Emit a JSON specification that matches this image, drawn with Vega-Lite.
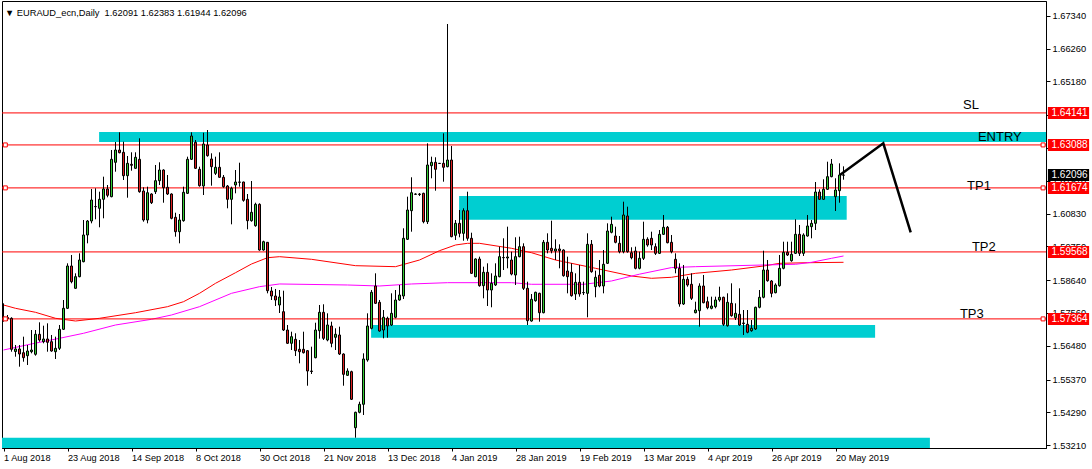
{
"$schema": "https://vega.github.io/schema/vega-lite/v6.json",
"width": 1044, "height": 447,
"autosize": {"type": "none"},
"padding": {"left": 2, "top": 1, "right": 46, "bottom": 21},
"background": "white",
"config": {"view": {"stroke": "black", "strokeWidth": 1}, "font": "Liberation Sans", "axis": {"grid": false, "labelOverlap": false, "labelSeparation": -40}, "axisY": {"labelOverlap": false}},
"title": {"text": "▼ EURAUD_ecn,Daily \u00a01.62091 1.62383 1.61944 1.62096", "anchor": "start", "frame": "group", "orient": "top", "offset": 0, "dy": 24, "dx": 3, "fontSize": 9.3, "fontWeight": "normal", "font": "Liberation Sans", "color": "black", "baseline": "alphabetic"},
"datasets": {
"zones": [
{"x1": 23.9, "x2": 270, "p1": 1.63513, "p2": 1.63184},
{"x1": 113.9, "x2": 210.8, "p1": 1.61408, "p2": 1.60628},
{"x1": 91.9, "x2": 217.9, "p1": 1.57164, "p2": 1.56746},
{"x1": -1, "x2": 231.6, "p1": 1.53456, "p2": 1.53117}
],
"levels": [
{"name": "SL", "p": 1.64141}, {"name": "ENTRY", "p": 1.63088}, {"name": "TP1", "p": 1.61674}, {"name": "TP2", "p": 1.59568}, {"name": "TP3", "p": 1.57364}
],
"ends": [
{"i": 0.45, "p": 1.63088}, {"i": 0.45, "p": 1.61674}, {"i": 0.45, "p": 1.57364},
{"i": 259.9, "p": 1.63088}, {"i": 259.9, "p": 1.61674}, {"i": 259.9, "p": 1.57364}
],
"notes": [
{"t": "SL", "i": 239.9, "p": 1.6427}, {"t": "ENTRY", "i": 243.6, "p": 1.63201}, {"t": "TP1", "i": 240.9, "p": 1.61605}, {"t": "TP2", "i": 242.1, "p": 1.59582}, {"t": "TP3", "i": 239.1, "p": 1.5741}
],
"tags": [
{"p": 1.64141, "kind": "level"}, {"p": 1.63088, "kind": "level"}, {"p": 1.62096, "kind": "current"}, {"p": 1.61674, "kind": "level"}, {"p": 1.59568, "kind": "level"}, {"p": 1.57364, "kind": "level"}
],
"arrow": [
{"k": 1, "i": 209.1, "p": 1.62099}, {"k": 2, "i": 219.95, "p": 1.63141}, {"k": 3, "i": 226.8, "p": 1.60213}
],
"ma": [
{"s":"red","i":0,"p":1.57822},{"s":"red","i":3,"p":1.57713},{"s":"red","i":8,"p":1.57581},{"s":"red","i":13,"p":1.57384},{"s":"red","i":18,"p":1.57295},{"s":"red","i":24,"p":1.57384},{"s":"red","i":33,"p":1.57568},{"s":"red","i":41,"p":1.57766},{"s":"red","i":45,"p":1.5793},{"s":"red","i":49,"p":1.58206},{"s":"red","i":53,"p":1.58535},{"s":"red","i":58,"p":1.58884},{"s":"red","i":62,"p":1.5917},{"s":"red","i":66,"p":1.59378},{"s":"red","i":69,"p":1.59411},{"s":"red","i":77,"p":1.59325},{"s":"red","i":88,"p":1.59115},{"s":"red","i":98,"p":1.59082},{"s":"red","i":104,"p":1.59302},{"s":"red","i":109,"p":1.59608},{"s":"red","i":113,"p":1.59796},{"s":"red","i":116,"p":1.59851},{"s":"red","i":119,"p":1.59851},{"s":"red","i":127,"p":1.59687},{"s":"red","i":132,"p":1.59542},{"s":"red","i":138,"p":1.59302},{"s":"red","i":148,"p":1.59029},{"s":"red","i":157,"p":1.58776},{"s":"red","i":162,"p":1.587},{"s":"red","i":167,"p":1.58733},{"s":"red","i":173,"p":1.58864},{"s":"red","i":182,"p":1.58973},{"s":"red","i":190,"p":1.59105},{"s":"red","i":194,"p":1.59193},{"s":"red","i":201,"p":1.59213},{"s":"red","i":210,"p":1.59226},
{"s":"magenta","i":0,"p":1.56341},{"s":"magenta","i":7,"p":1.5654},{"s":"magenta","i":14,"p":1.56726},{"s":"magenta","i":20,"p":1.56891},{"s":"magenta","i":28,"p":1.57164},{"s":"magenta","i":37,"p":1.57351},{"s":"magenta","i":42,"p":1.57493},{"s":"magenta","i":49,"p":1.57766},{"s":"magenta","i":57,"p":1.58206},{"s":"magenta","i":64,"p":1.58424},{"s":"magenta","i":69,"p":1.58513},{"s":"magenta","i":86,"p":1.5848},{"s":"magenta","i":94,"p":1.58447},{"s":"magenta","i":102,"p":1.58513},{"s":"magenta","i":111,"p":1.58556},{"s":"magenta","i":127,"p":1.58556},{"s":"magenta","i":132,"p":1.58503},{"s":"magenta","i":145,"p":1.58503},{"s":"magenta","i":152,"p":1.58612},{"s":"magenta","i":159,"p":1.58836},{"s":"magenta","i":167,"p":1.59053},{"s":"magenta","i":173,"p":1.59082},{"s":"magenta","i":190,"p":1.59138},{"s":"magenta","i":198,"p":1.59161},{"s":"magenta","i":202,"p":1.59226},{"s":"magenta","i":207,"p":1.59358},{"s":"magenta","i":210,"p":1.59434}
],
"candles": [
{"i":0,"o":1.57394,"h":1.57877,"l":1.57272,"c":1.57427},
{"i":1,"o":1.57410,"h":1.57493,"l":1.57295,"c":1.57377},
{"i":2,"o":1.57384,"h":1.57417,"l":1.56285,"c":1.56364},
{"i":3,"o":1.56292,"h":1.56506,"l":1.56121,"c":1.56374},
{"i":4,"o":1.56374,"h":1.56506,"l":1.55792,"c":1.56209},
{"i":5,"o":1.56252,"h":1.56779,"l":1.55956,"c":1.56088},
{"i":6,"o":1.56154,"h":1.56506,"l":1.55848,"c":1.56308},
{"i":7,"o":1.56285,"h":1.56999,"l":1.56232,"c":1.56341},
{"i":8,"o":1.56200,"h":1.56999,"l":1.56154,"c":1.56858},
{"i":9,"o":1.56858,"h":1.57252,"l":1.56614,"c":1.56670},
{"i":10,"o":1.56614,"h":1.57141,"l":1.56562,"c":1.56703},
{"i":11,"o":1.56703,"h":1.57219,"l":1.56285,"c":1.56594},
{"i":12,"o":1.56614,"h":1.56835,"l":1.56285,"c":1.56308},
{"i":13,"o":1.56285,"h":1.56779,"l":1.56045,"c":1.56397},
{"i":14,"o":1.56397,"h":1.57164,"l":1.56341,"c":1.57022},
{"i":15,"o":1.57022,"h":1.57986,"l":1.56999,"c":1.57713},
{"i":16,"o":1.57713,"h":1.59193,"l":1.57690,"c":1.59105},
{"i":17,"o":1.59105,"h":1.59467,"l":1.58535,"c":1.58588},
{"i":18,"o":1.58371,"h":1.58864,"l":1.58358,"c":1.58753},
{"i":19,"o":1.58753,"h":1.59522,"l":1.58733,"c":1.59302},
{"i":20,"o":1.59246,"h":1.60618,"l":1.59226,"c":1.60125},
{"i":21,"o":1.60125,"h":1.60618,"l":1.59851,"c":1.60585},
{"i":22,"o":1.60585,"h":1.61638,"l":1.60509,"c":1.61276},
{"i":23,"o":1.61056,"h":1.61661,"l":1.60641,"c":1.61062},
{"i":24,"o":1.61003,"h":1.61549,"l":1.60378,"c":1.61299},
{"i":25,"o":1.61299,"h":1.62043,"l":1.60674,"c":1.61638},
{"i":26,"o":1.61638,"h":1.61770,"l":1.61365,"c":1.61431},
{"i":27,"o":1.61385,"h":1.62921,"l":1.61365,"c":1.62615},
{"i":28,"o":1.62516,"h":1.63184,"l":1.62207,"c":1.62921},
{"i":29,"o":1.62921,"h":1.63503,"l":1.62812,"c":1.62832},
{"i":30,"o":1.62845,"h":1.63194,"l":1.61934,"c":1.62076},
{"i":31,"o":1.62076,"h":1.62724,"l":1.61352,"c":1.62483},
{"i":32,"o":1.62450,"h":1.62845,"l":1.62240,"c":1.62418},
{"i":33,"o":1.62319,"h":1.62845,"l":1.62306,"c":1.62681},
{"i":34,"o":1.62615,"h":1.63306,"l":1.61516,"c":1.61549},
{"i":35,"o":1.61572,"h":1.61694,"l":1.60562,"c":1.60618},
{"i":36,"o":1.60618,"h":1.61714,"l":1.60509,"c":1.61516},
{"i":37,"o":1.61473,"h":1.61496,"l":1.61144,"c":1.61187},
{"i":38,"o":1.61549,"h":1.62428,"l":1.61473,"c":1.61911},
{"i":39,"o":1.61911,"h":1.62516,"l":1.61770,"c":1.62263},
{"i":40,"o":1.62263,"h":1.62286,"l":1.61187,"c":1.61681},
{"i":41,"o":1.61694,"h":1.62099,"l":1.61440,"c":1.61473},
{"i":42,"o":1.61473,"h":1.61496,"l":1.60641,"c":1.60674},
{"i":43,"o":1.60707,"h":1.60858,"l":1.60069,"c":1.60233},
{"i":44,"o":1.60233,"h":1.60815,"l":1.59851,"c":1.60618},
{"i":45,"o":1.60595,"h":1.61714,"l":1.60562,"c":1.61529},
{"i":46,"o":1.61496,"h":1.62701,"l":1.61473,"c":1.62615},
{"i":47,"o":1.62615,"h":1.63503,"l":1.62592,"c":1.63382},
{"i":48,"o":1.63174,"h":1.63250,"l":1.62296,"c":1.62319},
{"i":49,"o":1.62286,"h":1.62372,"l":1.61714,"c":1.61747},
{"i":50,"o":1.61737,"h":1.63490,"l":1.61440,"c":1.63118},
{"i":51,"o":1.63086,"h":1.63579,"l":1.62701,"c":1.62734},
{"i":52,"o":1.62625,"h":1.62812,"l":1.61747,"c":1.62372},
{"i":53,"o":1.62154,"h":1.62701,"l":1.62099,"c":1.62352},
{"i":54,"o":1.62352,"h":1.62845,"l":1.62010,"c":1.62023},
{"i":55,"o":1.62023,"h":1.62099,"l":1.61681,"c":1.61714},
{"i":56,"o":1.61737,"h":1.61770,"l":1.61003,"c":1.61299},
{"i":57,"o":1.61299,"h":1.61714,"l":1.60476,"c":1.61661},
{"i":58,"o":1.61770,"h":1.62263,"l":1.61496,"c":1.61868},
{"i":59,"o":1.61868,"h":1.62503,"l":1.61714,"c":1.61859},
{"i":60,"o":1.61868,"h":1.61878,"l":1.61220,"c":1.61266},
{"i":61,"o":1.61299,"h":1.61473,"l":1.60312,"c":1.60595},
{"i":62,"o":1.60595,"h":1.61901,"l":1.60562,"c":1.60871},
{"i":63,"o":1.60430,"h":1.61187,"l":1.60397,"c":1.61134},
{"i":64,"o":1.61134,"h":1.61167,"l":1.59608,"c":1.59631},
{"i":65,"o":1.59631,"h":1.59937,"l":1.59608,"c":1.59904},
{"i":66,"o":1.59884,"h":1.59894,"l":1.58206,"c":1.58292},
{"i":67,"o":1.58282,"h":1.58414,"l":1.57986,"c":1.58118},
{"i":68,"o":1.58118,"h":1.58349,"l":1.57789,"c":1.57986},
{"i":69,"o":1.57822,"h":1.58315,"l":1.57558,"c":1.58085},
{"i":70,"o":1.57601,"h":1.58292,"l":1.56966,"c":1.56999},
{"i":71,"o":1.56999,"h":1.57164,"l":1.56540,"c":1.56562},
{"i":72,"o":1.56562,"h":1.56943,"l":1.56341,"c":1.56779},
{"i":73,"o":1.56693,"h":1.56891,"l":1.56144,"c":1.56318},
{"i":74,"o":1.56364,"h":1.56670,"l":1.55903,"c":1.56285},
{"i":75,"o":1.56364,"h":1.56943,"l":1.56226,"c":1.56252},
{"i":76,"o":1.56318,"h":1.56341,"l":1.55166,"c":1.55650},
{"i":77,"o":1.55650,"h":1.56450,"l":1.55551,"c":1.55634},
{"i":78,"o":1.56088,"h":1.57239,"l":1.56068,"c":1.56999},
{"i":79,"o":1.56976,"h":1.57822,"l":1.56713,"c":1.57581},
{"i":80,"o":1.57581,"h":1.57845,"l":1.56670,"c":1.56726},
{"i":81,"o":1.56670,"h":1.57548,"l":1.56627,"c":1.57164},
{"i":82,"o":1.57131,"h":1.57272,"l":1.56431,"c":1.56562},
{"i":83,"o":1.56759,"h":1.57055,"l":1.56341,"c":1.56858},
{"i":84,"o":1.56835,"h":1.57108,"l":1.56176,"c":1.56209},
{"i":85,"o":1.56209,"h":1.56232,"l":1.55166,"c":1.55541},
{"i":86,"o":1.55508,"h":1.55739,"l":1.55485,"c":1.55650},
{"i":87,"o":1.55627,"h":1.55660,"l":1.54696,"c":1.54719},
{"i":88,"o":1.53785,"h":1.54311,"l":1.53456,"c":1.54291},
{"i":89,"o":1.54291,"h":1.54640,"l":1.54258,"c":1.54555},
{"i":90,"o":1.54555,"h":1.56232,"l":1.54203,"c":1.56045},
{"i":91,"o":1.56012,"h":1.57548,"l":1.55956,"c":1.57131},
{"i":92,"o":1.57055,"h":1.58315,"l":1.57022,"c":1.58239},
{"i":93,"o":1.58447,"h":1.58864,"l":1.57854,"c":1.57877},
{"i":94,"o":1.57910,"h":1.57986,"l":1.56943,"c":1.56966},
{"i":95,"o":1.56999,"h":1.57657,"l":1.56726,"c":1.57417},
{"i":96,"o":1.57384,"h":1.57437,"l":1.56746,"c":1.57131},
{"i":97,"o":1.57164,"h":1.58206,"l":1.57131,"c":1.57548},
{"i":98,"o":1.57417,"h":1.58315,"l":1.57384,"c":1.57986},
{"i":99,"o":1.57986,"h":1.58480,"l":1.57963,"c":1.58151},
{"i":100,"o":1.58118,"h":1.60345,"l":1.58019,"c":1.60016},
{"i":101,"o":1.59983,"h":1.61385,"l":1.59960,"c":1.60947},
{"i":102,"o":1.60924,"h":1.62023,"l":1.60233,"c":1.61516},
{"i":103,"o":1.61463,"h":1.61496,"l":1.61440,"c":1.61473},
{"i":104,"o":1.61473,"h":1.61506,"l":1.61407,"c":1.61457},
{"i":105,"o":1.61496,"h":1.61516,"l":1.60509,"c":1.60562},
{"i":106,"o":1.60562,"h":1.63141,"l":1.60486,"c":1.62428},
{"i":107,"o":1.62405,"h":1.62701,"l":1.61990,"c":1.62516},
{"i":108,"o":1.62516,"h":1.62681,"l":1.61582,"c":1.62286},
{"i":109,"o":1.62483,"h":1.62493,"l":1.62460,"c":1.62477},
{"i":110,"o":1.62483,"h":1.63470,"l":1.61878,"c":1.62352},
{"i":111,"o":1.62372,"h":1.67066,"l":1.62352,"c":1.62592},
{"i":112,"o":1.62592,"h":1.63053,"l":1.60049,"c":1.60069},
{"i":113,"o":1.60115,"h":1.60618,"l":1.59960,"c":1.60509},
{"i":114,"o":1.60509,"h":1.60947,"l":1.60049,"c":1.60180},
{"i":115,"o":1.60180,"h":1.61003,"l":1.59937,"c":1.60924},
{"i":116,"o":1.60924,"h":1.61549,"l":1.59937,"c":1.60016},
{"i":117,"o":1.60016,"h":1.60200,"l":1.58841,"c":1.58864},
{"i":118,"o":1.58753,"h":1.59358,"l":1.58733,"c":1.59335},
{"i":119,"o":1.59335,"h":1.59411,"l":1.58424,"c":1.58457},
{"i":120,"o":1.58457,"h":1.59082,"l":1.58042,"c":1.58897},
{"i":121,"o":1.58897,"h":1.59193,"l":1.57789,"c":1.58315},
{"i":122,"o":1.58315,"h":1.58864,"l":1.57746,"c":1.58535},
{"i":123,"o":1.58480,"h":1.59193,"l":1.58447,"c":1.58776},
{"i":124,"o":1.58753,"h":1.59740,"l":1.58733,"c":1.59411},
{"i":125,"o":1.59378,"h":1.60016,"l":1.58973,"c":1.59384},
{"i":126,"o":1.59368,"h":1.60398,"l":1.59029,"c":1.59401},
{"i":127,"o":1.59302,"h":1.59575,"l":1.58797,"c":1.58840},
{"i":128,"o":1.58808,"h":1.60049,"l":1.58480,"c":1.59411},
{"i":129,"o":1.59411,"h":1.60069,"l":1.59391,"c":1.59740},
{"i":130,"o":1.59740,"h":1.59851,"l":1.58315,"c":1.58371},
{"i":131,"o":1.58371,"h":1.58588,"l":1.57164,"c":1.57305},
{"i":132,"o":1.57295,"h":1.58183,"l":1.57272,"c":1.58009},
{"i":133,"o":1.57963,"h":1.58259,"l":1.57930,"c":1.58239},
{"i":134,"o":1.58206,"h":1.58226,"l":1.57272,"c":1.57568},
{"i":135,"o":1.57568,"h":1.59960,"l":1.57548,"c":1.59884},
{"i":136,"o":1.59884,"h":1.60180,"l":1.59522,"c":1.59631},
{"i":137,"o":1.59687,"h":1.60595,"l":1.59522,"c":1.59608},
{"i":138,"o":1.59598,"h":1.59983,"l":1.59302,"c":1.59664},
{"i":139,"o":1.59664,"h":1.59818,"l":1.59029,"c":1.59608},
{"i":140,"o":1.59631,"h":1.59654,"l":1.58753,"c":1.58786},
{"i":141,"o":1.58940,"h":1.59411,"l":1.58206,"c":1.58753},
{"i":142,"o":1.58897,"h":1.59193,"l":1.58095,"c":1.58128},
{"i":143,"o":1.58184,"h":1.58864,"l":1.57986,"c":1.58568},
{"i":144,"o":1.58568,"h":1.59138,"l":1.58095,"c":1.58184},
{"i":145,"o":1.58226,"h":1.58588,"l":1.58151,"c":1.58233},
{"i":146,"o":1.58206,"h":1.60180,"l":1.57417,"c":1.59818},
{"i":147,"o":1.59818,"h":1.59960,"l":1.58884,"c":1.58917},
{"i":148,"o":1.58424,"h":1.58950,"l":1.58075,"c":1.58733},
{"i":149,"o":1.58800,"h":1.59302,"l":1.58404,"c":1.58447},
{"i":150,"o":1.58447,"h":1.59631,"l":1.58206,"c":1.59161},
{"i":151,"o":1.59193,"h":1.60509,"l":1.59170,"c":1.60256},
{"i":152,"o":1.60213,"h":1.60727,"l":1.60180,"c":1.60476},
{"i":153,"o":1.60092,"h":1.60398,"l":1.59851,"c":1.59884},
{"i":154,"o":1.59851,"h":1.60092,"l":1.59522,"c":1.59575},
{"i":155,"o":1.59575,"h":1.61220,"l":1.59522,"c":1.60783},
{"i":156,"o":1.60750,"h":1.61056,"l":1.59542,"c":1.59575},
{"i":157,"o":1.59542,"h":1.59720,"l":1.59325,"c":1.59378},
{"i":158,"o":1.59598,"h":1.59740,"l":1.58996,"c":1.59029},
{"i":159,"o":1.59029,"h":1.59575,"l":1.58996,"c":1.59358},
{"i":160,"o":1.59358,"h":1.60562,"l":1.59302,"c":1.59983},
{"i":161,"o":1.59983,"h":1.60049,"l":1.59740,"c":1.59796},
{"i":162,"o":1.60016,"h":1.60233,"l":1.59631,"c":1.59796},
{"i":163,"o":1.59740,"h":1.59851,"l":1.59467,"c":1.59522},
{"i":164,"o":1.59522,"h":1.60289,"l":1.59499,"c":1.60147},
{"i":165,"o":1.60147,"h":1.60783,"l":1.60125,"c":1.60378},
{"i":166,"o":1.60378,"h":1.60421,"l":1.59851,"c":1.59871},
{"i":167,"o":1.59884,"h":1.60125,"l":1.59522,"c":1.59575},
{"i":168,"o":1.59325,"h":1.59522,"l":1.58864,"c":1.59029},
{"i":169,"o":1.59029,"h":1.59193,"l":1.57766,"c":1.57854},
{"i":170,"o":1.57854,"h":1.59138,"l":1.57822,"c":1.58667},
{"i":171,"o":1.58667,"h":1.58753,"l":1.58424,"c":1.58480},
{"i":172,"o":1.58503,"h":1.58864,"l":1.57986,"c":1.58042},
{"i":173,"o":1.57568,"h":1.57930,"l":1.57548,"c":1.57657},
{"i":174,"o":1.57634,"h":1.58535,"l":1.57108,"c":1.58447},
{"i":175,"o":1.58447,"h":1.58809,"l":1.57877,"c":1.57897},
{"i":176,"o":1.57930,"h":1.58095,"l":1.57680,"c":1.57733},
{"i":177,"o":1.57713,"h":1.58095,"l":1.57680,"c":1.57789},
{"i":178,"o":1.57766,"h":1.58095,"l":1.57713,"c":1.57986},
{"i":179,"o":1.57986,"h":1.58424,"l":1.57930,"c":1.58075},
{"i":180,"o":1.58075,"h":1.58095,"l":1.57131,"c":1.57187},
{"i":181,"o":1.57141,"h":1.58206,"l":1.57108,"c":1.57910},
{"i":182,"o":1.57877,"h":1.58535,"l":1.57437,"c":1.57469},
{"i":183,"o":1.57404,"h":1.57877,"l":1.57328,"c":1.57548},
{"i":184,"o":1.57515,"h":1.58371,"l":1.57131,"c":1.57164},
{"i":185,"o":1.57230,"h":1.57657,"l":1.56835,"c":1.57213},
{"i":186,"o":1.57187,"h":1.57657,"l":1.56891,"c":1.56924},
{"i":187,"o":1.56976,"h":1.57328,"l":1.56943,"c":1.57055},
{"i":188,"o":1.57032,"h":1.57766,"l":1.56999,"c":1.57746},
{"i":189,"o":1.57746,"h":1.58315,"l":1.57713,"c":1.58075},
{"i":190,"o":1.58075,"h":1.59608,"l":1.58042,"c":1.58973},
{"i":191,"o":1.58973,"h":1.59302,"l":1.58588,"c":1.58621},
{"i":192,"o":1.58611,"h":1.58644,"l":1.58075,"c":1.58206},
{"i":193,"o":1.58226,"h":1.58535,"l":1.58206,"c":1.58480},
{"i":194,"o":1.58457,"h":1.59467,"l":1.58424,"c":1.59029},
{"i":195,"o":1.59029,"h":1.59904,"l":1.58996,"c":1.59555},
{"i":196,"o":1.59555,"h":1.59904,"l":1.59434,"c":1.59467},
{"i":197,"o":1.59279,"h":1.59904,"l":1.59246,"c":1.59490},
{"i":198,"o":1.59522,"h":1.60641,"l":1.59499,"c":1.60147},
{"i":199,"o":1.60147,"h":1.60454,"l":1.59434,"c":1.59522},
{"i":200,"o":1.59522,"h":1.60180,"l":1.59434,"c":1.60125},
{"i":201,"o":1.60092,"h":1.60783,"l":1.60069,"c":1.60421},
{"i":202,"o":1.60398,"h":1.60618,"l":1.60016,"c":1.60509},
{"i":203,"o":1.60509,"h":1.61868,"l":1.60289,"c":1.61539},
{"i":204,"o":1.61539,"h":1.61627,"l":1.61276,"c":1.61299},
{"i":205,"o":1.61299,"h":1.61957,"l":1.61276,"c":1.61628},
{"i":206,"o":1.61628,"h":1.62536,"l":1.61605,"c":1.62043},
{"i":207,"o":1.62043,"h":1.62625,"l":1.62023,"c":1.62460},
{"i":208,"o":1.61385,"h":1.61990,"l":1.60914,"c":1.61605},
{"i":209,"o":1.61582,"h":1.62483,"l":1.61187,"c":1.62099},
{"i":210,"o":1.62091,"h":1.62383,"l":1.61944,"c":1.62096}
]
},
"layer": [
{"data": {"name": "zones"}, "mark": {"type": "rect", "color": "#00CED1", "clip": true},
 "encoding": {
  "x": {"field": "x1", "type": "quantitative", "title": null, "scale": {"domain": [-0.375, 260.625], "nice": false, "zero": false, "padding": 0}},
  "x2": {"field": "x2"},
  "y": {"field": "p1", "type": "quantitative", "title": null, "scale": {"domain": [1.531168, 1.678231], "nice": false, "zero": false, "padding": 0},
   "axis": {"orient": "right", "values": [1.6734,1.6626,1.6518,1.6407,1.6299,1.6191,1.6083,1.5975,1.5864,1.5756,1.5648,1.5537,1.5429,1.5321], "format": ".5f", "title": null, "grid": false, "tickSize": 4, "labelPadding": 2, "labelFontSize": 9.3, "labelFont": "Liberation Sans", "labelColor": "black", "tickColor": "black", "domainColor": "black", "labelOverlap": false, "labelSeparation": -40, "labelFlush": false, "labelBound": false}},
  "y2": {"field": "p2"}}},
{"data": {"name": "ma"}, "mark": {"type": "line", "strokeWidth": 1, "clip": true},
 "encoding": {
  "x": {"field": "i", "type": "quantitative", "title": null},
  "y": {"field": "p", "type": "quantitative", "title": null,
   "axis": {"orient": "right", "values": [1.6734,1.6626,1.6518,1.6407,1.6299,1.6191,1.6083,1.5975,1.5864,1.5756,1.5648,1.5537,1.5429,1.5321], "format": ".5f", "title": null, "grid": false, "tickSize": 4, "labelPadding": 2, "labelFontSize": 9.3, "labelFont": "Liberation Sans", "labelColor": "black", "tickColor": "black", "domainColor": "black", "labelOverlap": false, "labelSeparation": -40, "labelFlush": false, "labelBound": false}},
  "color": {"field": "s", "type": "nominal", "scale": {"domain": ["red", "magenta"], "range": ["#ff0000", "#ff00ff"]}, "legend": null}}},
{"data": {"name": "levels"}, "mark": {"type": "rule", "color": "#ff0000", "strokeWidth": 1},
 "encoding": {"y": {"field": "p", "type": "quantitative", "title": null,
   "axis": {"orient": "right", "values": [1.6734,1.6626,1.6518,1.6407,1.6299,1.6191,1.6083,1.5975,1.5864,1.5756,1.5648,1.5537,1.5429,1.5321], "format": ".5f", "title": null, "grid": false, "tickSize": 4, "labelPadding": 2, "labelFontSize": 9.3, "labelFont": "Liberation Sans", "labelColor": "black", "tickColor": "black", "domainColor": "black", "labelOverlap": false, "labelSeparation": -40, "labelFlush": false, "labelBound": false}}}},
{"data": {"name": "candles"}, "mark": {"type": "rule", "color": "black", "strokeWidth": 1},
 "encoding": {
  "x": {"field": "i", "type": "quantitative", "title": null},
  "y": {"field": "l", "type": "quantitative", "title": null,
   "axis": {"orient": "right", "values": [1.6734,1.6626,1.6518,1.6407,1.6299,1.6191,1.6083,1.5975,1.5864,1.5756,1.5648,1.5537,1.5429,1.5321], "format": ".5f", "title": null, "grid": false, "tickSize": 4, "labelPadding": 2, "labelFontSize": 9.3, "labelFont": "Liberation Sans", "labelColor": "black", "tickColor": "black", "domainColor": "black", "labelOverlap": false, "labelSeparation": -40, "labelFlush": false, "labelBound": false}},
  "y2": {"field": "h"}}},
{"data": {"name": "candles"}, "mark": {"type": "bar", "size": 2, "stroke": "black", "strokeWidth": 1},
 "encoding": {
  "x": {"field": "i", "type": "quantitative", "title": null,
   "scale": {"domain": [-0.375, 260.625], "nice": false, "zero": false, "padding": 0},
   "axis": {"values": [0,16,32,48,64,80,96,112,128,144,160,176,192,208],
    "labelExpr": "['1 Aug 2018','23 Aug 2018','14 Sep 2018','8 Oct 2018','30 Oct 2018','21 Nov 2018','13 Dec 2018','4 Jan 2019','28 Jan 2019','19 Feb 2019','13 Mar 2019','4 Apr 2019','26 Apr 2019','20 May 2019'][round(datum.value/16)]",
    "title": null, "grid": false, "tickSize": 3, "labelPadding": 2, "labelAlign": "left", "labelFontSize": 9.2, "labelFont": "Liberation Sans", "labelColor": "black", "tickColor": "black", "domainColor": "black", "labelFlush": false, "labelOverlap": false, "labelBound": false}},
  "y": {"field": "o", "type": "quantitative", "title": null,
   "scale": {"domain": [1.531168, 1.678231], "nice": false, "zero": false, "padding": 0},
   "axis": {"orient": "right", "values": [1.6734,1.6626,1.6518,1.6407,1.6299,1.6191,1.6083,1.5975,1.5864,1.5756,1.5648,1.5537,1.5429,1.5321], "format": ".5f", "title": null, "grid": false, "tickSize": 4, "labelPadding": 2, "labelFontSize": 9.3, "labelFont": "Liberation Sans", "labelColor": "black", "tickColor": "black", "domainColor": "black", "labelOverlap": false, "labelSeparation": -40, "labelFlush": false, "labelBound": false}},
  "y2": {"field": "c"},
  "fill": {"condition": {"test": "datum.c >= datum.o", "value": "#33cc33"}, "value": "#dd2020"}}},
{"data": {"name": "arrow"}, "mark": {"type": "line", "color": "black", "strokeWidth": 2.5},
 "encoding": {
  "x": {"field": "i", "type": "quantitative", "title": null},
  "y": {"field": "p", "type": "quantitative", "title": null,
   "axis": {"orient": "right", "values": [1.6734,1.6626,1.6518,1.6407,1.6299,1.6191,1.6083,1.5975,1.5864,1.5756,1.5648,1.5537,1.5429,1.5321], "format": ".5f", "title": null, "grid": false, "tickSize": 4, "labelPadding": 2, "labelFontSize": 9.3, "labelFont": "Liberation Sans", "labelColor": "black", "tickColor": "black", "domainColor": "black", "labelOverlap": false, "labelSeparation": -40, "labelFlush": false, "labelBound": false}},
  "order": {"field": "k"}}},
{"data": {"name": "ends"}, "mark": {"type": "point", "shape": "square", "size": 16, "filled": true, "fill": "white", "stroke": "#ff0000", "strokeWidth": 1, "opacity": 1},
 "encoding": {
  "x": {"field": "i", "type": "quantitative", "title": null},
  "y": {"field": "p", "type": "quantitative", "title": null,
   "axis": {"orient": "right", "values": [1.6734,1.6626,1.6518,1.6407,1.6299,1.6191,1.6083,1.5975,1.5864,1.5756,1.5648,1.5537,1.5429,1.5321], "format": ".5f", "title": null, "grid": false, "tickSize": 4, "labelPadding": 2, "labelFontSize": 9.3, "labelFont": "Liberation Sans", "labelColor": "black", "tickColor": "black", "domainColor": "black", "labelOverlap": false, "labelSeparation": -40, "labelFlush": false, "labelBound": false}}}},
{"data": {"name": "notes"}, "mark": {"type": "text", "align": "left", "baseline": "alphabetic", "fontSize": 13, "font": "Liberation Sans", "color": "black"},
 "encoding": {
  "x": {"field": "i", "type": "quantitative", "title": null},
  "y": {"field": "p", "type": "quantitative", "title": null,
   "axis": {"orient": "right", "values": [1.6734,1.6626,1.6518,1.6407,1.6299,1.6191,1.6083,1.5975,1.5864,1.5756,1.5648,1.5537,1.5429,1.5321], "format": ".5f", "title": null, "grid": false, "tickSize": 4, "labelPadding": 2, "labelFontSize": 9.3, "labelFont": "Liberation Sans", "labelColor": "black", "tickColor": "black", "domainColor": "black", "labelOverlap": false, "labelSeparation": -40, "labelFlush": false, "labelBound": false}},
  "text": {"field": "t"}}},
{"data": {"name": "tags"}, "mark": {"type": "bar", "size": 12},
 "encoding": {
  "x": {"datum": 261.1, "type": "quantitative", "title": null, "scale": {"domain": [-0.375, 260.625], "nice": false, "zero": false, "padding": 0}},
  "x2": {"datum": 271.4},
  "y": {"field": "p", "type": "quantitative", "title": null, "scale": {"domain": [1.531168, 1.678231], "nice": false, "zero": false, "padding": 0},
   "axis": {"orient": "right", "values": [1.6734,1.6626,1.6518,1.6407,1.6299,1.6191,1.6083,1.5975,1.5864,1.5756,1.5648,1.5537,1.5429,1.5321], "format": ".5f", "title": null, "grid": false, "tickSize": 4, "labelPadding": 2, "labelFontSize": 9.3, "labelFont": "Liberation Sans", "labelColor": "black", "tickColor": "black", "domainColor": "black", "labelOverlap": false, "labelSeparation": -40, "labelFlush": false, "labelBound": false}},
  "color": {"field": "kind", "type": "nominal", "scale": {"domain": ["level", "current"], "range": ["#ff0000", "#000000"]}, "legend": null}}},
{"data": {"name": "tags"}, "mark": {"type": "text", "align": "left", "baseline": "middle", "fontSize": 10, "font": "Liberation Sans", "color": "white"},
 "encoding": {
  "x": {"datum": 262.0, "type": "quantitative", "title": null},
  "y": {"field": "p", "type": "quantitative", "title": null,
   "axis": {"orient": "right", "values": [1.6734,1.6626,1.6518,1.6407,1.6299,1.6191,1.6083,1.5975,1.5864,1.5756,1.5648,1.5537,1.5429,1.5321], "format": ".5f", "title": null, "grid": false, "tickSize": 4, "labelPadding": 2, "labelFontSize": 9.3, "labelFont": "Liberation Sans", "labelColor": "black", "tickColor": "black", "domainColor": "black", "labelOverlap": false, "labelSeparation": -40, "labelFlush": false, "labelBound": false}},
  "text": {"field": "p", "type": "quantitative", "format": ".5f"}}}
],
"resolve": {"scale": {"color": "independent"}}
}
